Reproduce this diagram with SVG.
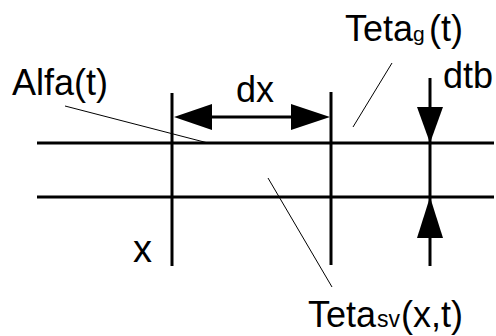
<svg xmlns="http://www.w3.org/2000/svg" width="496" height="336" viewBox="0 0 496 336">
<defs>
<style>
.thick{stroke:#000;stroke-width:3;fill:none}
.thin{stroke:#000;stroke-width:1;fill:none}
.head{fill:#000;stroke:none}
text{font-family:"Liberation Sans",Arial,sans-serif;fill:#000}
.lbl{font-size:36px}
.sub{font-size:21px}
</style>
</defs>
<rect width="496" height="336" fill="#fff"/>
<g id="connectors">
<line class="thick" x1="37" y1="143" x2="494" y2="143"/>
<line class="thick" x1="37" y1="197" x2="494" y2="197"/>
<line class="thick" x1="172" y1="93" x2="172" y2="266"/>
<line class="thick" x1="331" y1="92" x2="331" y2="265"/>
<line class="thick" x1="430" y1="78" x2="430" y2="266"/>
<line class="thick" x1="210" y1="117" x2="293" y2="117"/>
<polygon class="head" points="174,117 212,104 212,130"/>
<polygon class="head" points="330,117 291,104 291,130"/>
<polygon class="head" points="430,143 417,107 443,107"/>
<polygon class="head" points="430,197 417,238 443,238"/>
<line class="thin" x1="65" y1="106" x2="208" y2="143"/>
<line class="thin" x1="392" y1="63" x2="353" y2="127"/>
<line class="thin" x1="268" y1="178" x2="332" y2="287"/>
</g>
<g id="alfa"><text class="lbl" x="12" y="95" font-size="37">Alfa(t)</text></g>
<g id="dx"><text class="lbl" x="236" y="102">dx</text></g>
<g id="tetag"><text class="lbl" x="345" y="41">Teta<tspan class="sub">g</tspan><tspan x="429">(t)</tspan></text></g>
<g id="dtb"><text class="lbl" x="443" y="88">dtb</text></g>
<g id="x"><text class="lbl" x="133" y="262" style="font-size:38px">x</text></g>
<g id="tetasv"><text class="lbl" x="308" y="327">Teta<tspan class="sub" x="377" style="font-size:23px">sv</tspan><tspan x="401">(x,t)</tspan></text></g>
</svg>
